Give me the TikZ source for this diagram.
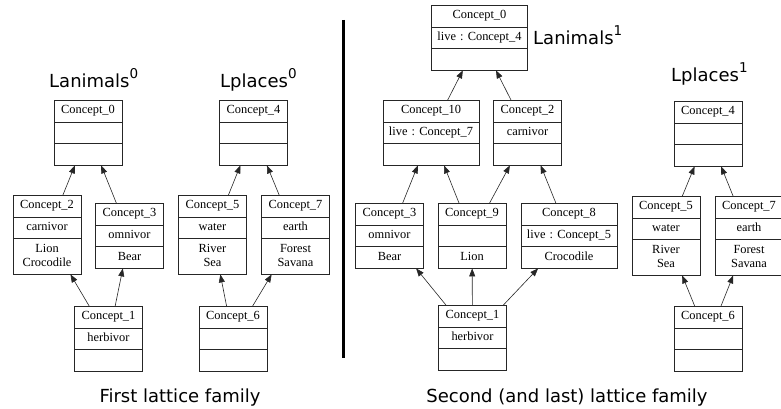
\documentclass[tikz,border=0pt]{standalone}
\usepackage{fontspec}
\setmainfont{Liberation Serif}
\newfontfamily\titlefont{DejaVu Sans}
\usetikzlibrary{shapes.multipart,arrows.meta}

\newcommand{\lsup}[1]{\raisebox{9pt}{\fontsize{13.5}{14}\selectfont #1}}

\begin{document}
\begin{tikzpicture}[x=1pt,y=-1pt,
  concept/.style={draw=black!85, line width=0.6pt, rectangle split, rectangle split parts=3,
    anchor=north, align=center, text width=60pt, inner xsep=4pt, inner ysep=3.5pt,
    font=\fontsize{12.4}{14}\selectfont\frenchspacing},
  wideconcept/.style={concept, text width=88pt},
  family/.style={font=\titlefont\fontsize{18}{20}\selectfont, anchor=base west, inner sep=0pt},
  caption/.style={font=\titlefont\fontsize{18}{20}\selectfont, anchor=base, inner sep=0pt},
  link/.style={draw=black!85, line width=0.6pt, -{Triangle[length=8pt,width=6pt]}}]
\useasboundingbox (0,0) rectangle (781,409);

% first family
\node[family] (lanim0) at (49,88) {Lanimals\lsup{0}};
\node[family] (lplac0) at (220,88) {Lplaces\lsup{0}};

\node[concept] (la0) at (88,100) {\strut Concept\_0 \nodepart{two} \strut \nodepart{three} \strut};
\node[concept] (la2) at (47,195) {\strut Concept\_2 \nodepart{two} \strut carnivor \nodepart{three} \strut Lion\\\strut Crocodile};
\node[concept] (la3) at (129.5,203) {\strut Concept\_3 \nodepart{two} \strut omnivor \nodepart{three} \strut Bear};
\node[concept] (la1) at (108.5,306) {\strut Concept\_1 \nodepart{two} \strut herbivor \nodepart{three} \strut};

\node[concept] (lp4) at (253.5,100) {\strut Concept\_4 \nodepart{two} \strut \nodepart{three} \strut};
\node[concept] (lp5) at (212.5,195) {\strut Concept\_5 \nodepart{two} \strut water \nodepart{three} \strut River\\\strut Sea};
\node[concept] (lp7) at (295.5,195) {\strut Concept\_7 \nodepart{two} \strut earth \nodepart{three} \strut Forest\\\strut Savana};
\node[concept] (lp6) at (233,306) {\strut Concept\_6 \nodepart{two} \strut \nodepart{three} \strut};

\path[link] (la2) -- (la0);
\path[link] (la3) -- (la0);
\path[link] (la1) -- (la2);
\path[link] (la1) -- (la3);
\path[link] (lp5) -- (lp4);
\path[link] (lp7) -- (lp4);
\path[link] (lp6) -- (lp5);
\path[link] (lp6) -- (lp7);

% separator
\coordinate (septop) at (343.5,20);
\coordinate (sepbot) at (343.5,358);
\draw[line width=3pt] (septop) -- (sepbot);

% second family
\node[family] (lanim1) at (533,45) {Lanimals\lsup{1}};
\node[family] (lplac1) at (671,82) {Lplaces\lsup{1}};

\node[wideconcept] (ra0) at (479.5,5) {\strut Concept\_0 \nodepart{two} \strut live : Concept\_4 \nodepart{three} \strut};
\node[wideconcept] (ra10) at (431,100) {\strut Concept\_10 \nodepart{two} \strut live : Concept\_7 \nodepart{three} \strut};
\node[concept] (ra2) at (527.5,100) {\strut Concept\_2 \nodepart{two} \strut carnivor \nodepart{three} \strut};
\node[concept] (ra3) at (389.5,203) {\strut Concept\_3 \nodepart{two} \strut omnivor \nodepart{three} \strut Bear};
\node[concept] (ra9) at (472,203) {\strut Concept\_9 \nodepart{two} \strut \nodepart{three} \strut Lion};
\node[wideconcept] (ra8) at (569,203) {\strut Concept\_8 \nodepart{two} \strut live : Concept\_5 \nodepart{three} \strut Crocodile};
\node[concept] (ra1) at (472.5,305) {\strut Concept\_1 \nodepart{two} \strut herbivor \nodepart{three} \strut};

\node[concept] (rp4) at (708,101) {\strut Concept\_4 \nodepart{two} \strut \nodepart{three} \strut};
\node[concept] (rp5) at (666,196) {\strut Concept\_5 \nodepart{two} \strut water \nodepart{three} \strut River\\\strut Sea};
\node[concept] (rp7) at (749,196) {\strut Concept\_7 \nodepart{two} \strut earth \nodepart{three} \strut Forest\\\strut Savana};
\node[concept] (rp6) at (708,306) {\strut Concept\_6 \nodepart{two} \strut \nodepart{three} \strut};

\path[link] (ra10) -- (ra0);
\path[link] (ra2) -- (ra0);
\path[link] (ra3) -- (ra10);
\path[link] (ra9) -- (ra10);
\path[link] (ra9) -- (ra2);
\path[link] (ra8) -- (ra2);
\path[link] (ra1) -- (ra3);
\path[link] (ra1) -- (ra9);
\path[link] (ra1) -- (ra8);
\path[link] (rp5) -- (rp4);
\path[link] (rp7) -- (rp4);
\path[link] (rp6) -- (rp5);
\path[link] (rp6) -- (rp7);

% captions
\node[caption] (cap1) at (180,402) {First lattice family};
\node[caption] (cap2) at (567,402) {Second (and last) lattice family};
\end{tikzpicture}
\end{document}
